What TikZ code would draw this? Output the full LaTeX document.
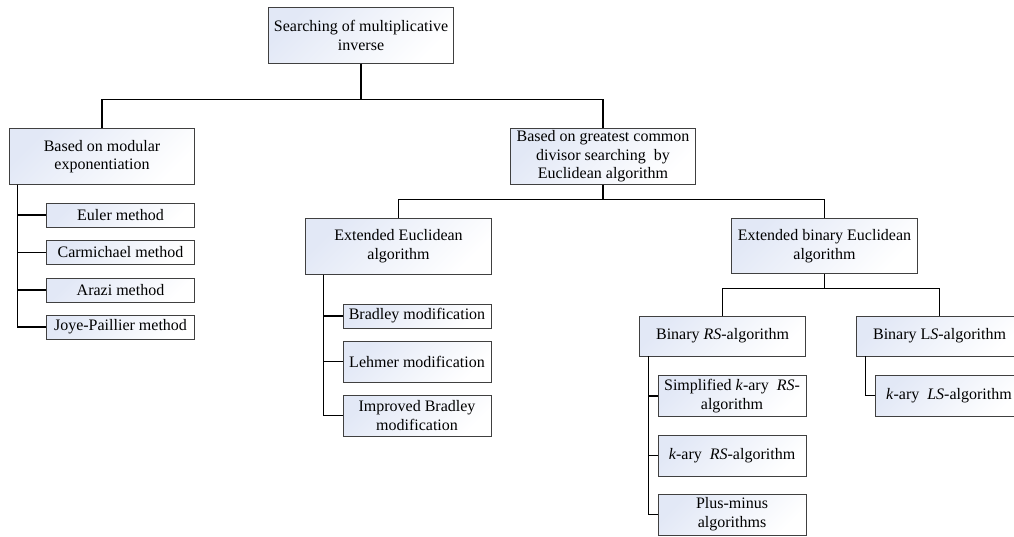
\documentclass[tikz,border=0pt]{standalone}
\usepackage{fontspec}
\setmainfont{Liberation Serif}
\definecolor{cajaazul}{RGB}{226,232,246}
\tikzset{
	grande/.style = {minimum width = 139pt, minimum height = 41.5pt},
	media/.style = {minimum width = 125pt, minimum height = 30pt},
	hoja/.style = {minimum width = 111pt, minimum height = 18pt},
	hojaalta/.style = {minimum width = 111pt, minimum height = 30.75pt}
}
\begin{document}
\begin{tikzpicture}[x = 0.75pt, y = -0.75pt]
\useasboundingbox (0,0) rectangle (1014,536);

% Nodos
\begin{scope}[
		every node/.style = {shape = rectangle, draw = black!75, line width = .6pt,
		top color = cajaazul, bottom color = white, shading angle = 45,
		align = center, inner sep = 0pt, font = \fontsize{12}{14}\selectfont}]
	\node[grande] (R) at (361,35.5) {Searching of multiplicative\\inverse};
	\node[grande] (A) at (102,156.5) {Based on modular\\exponentiation};
	\node[hoja] (A1) at (120.5,215) {Euler method};
	\node[hoja] (A2) at (120.5,252.5) {Carmichael method};
	\node[hoja] (A3) at (120.5,290) {Arazi method};
	\node[hoja] (A4) at (120.5,327) {Joye-Paillier method};
	\node[grande] (B) at (603,156.5) {Based on greatest common\\divisor searching\ \ by\\Euclidean algorithm};
	\node[grande] (B1) at (398.5,246.5) {Extended Euclidean\\algorithm};
	\node[hoja] (B11) at (417,316) {Bradley modification};
	\node[hojaalta] (B12) at (417,361.5) {Lehmer modification};
	\node[hojaalta] (B13) at (417,415.5) {Improved Bradley\\modification};
	\node[grande] (B2) at (824.5,246) {Extended binary Euclidean\\algorithm};
	\node[media] (B21) at (722.5,336) {Binary \textit{RS}-algorithm};
	\node[hojaalta] (B211) at (732,396) {Simplified \textit{k}-ary\ \ \textit{RS}-\\algorithm};
	\node[hojaalta] (B212) at (732,455.5) {\textit{k}-ary\ \ \textit{RS}-algorithm};
	\node[hojaalta] (B213) at (732,514.5) {Plus-minus\\algorithms};
	\node[media] (B22) at (939.5,336) {Binary L\textit{S}-algorithm};
	\node[hojaalta] (B221) at (949,395.5) {\textit{k}-ary\ \ \textit{LS}-algorithm};
\end{scope}

% Paths
\begin{scope}[every path/.style = {draw = black, line width = .8pt}]
	\draw (R.south) -- ++(0,36) -| (A.north);
	\draw (R.south) -- ++(0,36) -| (B.north);
	\draw (B.south) -- ++(0,15) -| (B1.north);
	\draw (B.south) -- ++(0,15) -| (B2.north);
	\draw (B2.south) -- ++(0,14) -| (B21.north);
	\draw (B2.south) -- ++(0,14) -| (B22.north);
	\foreach \h in {A1,A2,A3,A4}
		\draw (A.south west) ++(9,0) |- (\h.west);
	\foreach \h in {B11,B12,B13}
		\draw (B1.south west) ++(18,0) |- (\h.west);
	\foreach \h in {B211,B212,B213}
		\draw (B21.south west) ++(10,0) |- (\h.west);
	\draw (B22.south west) ++(10,0) |- (B221.west);
\end{scope}
\end{tikzpicture}
\end{document}
